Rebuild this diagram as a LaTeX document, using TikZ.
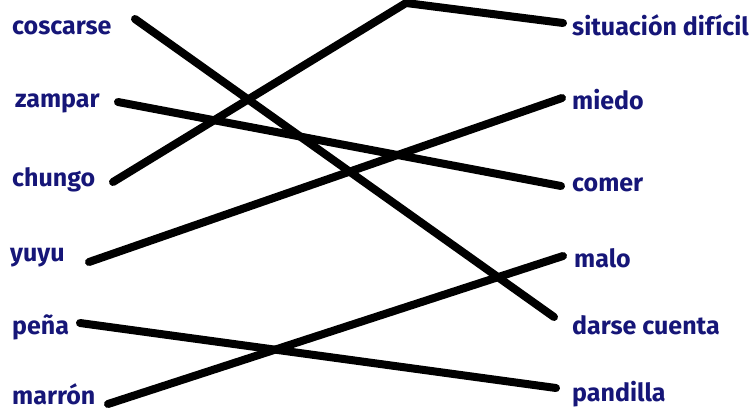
\documentclass[tikz,border=0pt]{standalone}
\usepackage{fontspec}
\setmainfont{Fira Sans}
\definecolor{navy}{RGB}{22,22,120}
\begin{document}
\begin{tikzpicture}[x=1pt,y=-1pt,
  lbl/.style={anchor=west,inner sep=0pt,text=navy,font=\fontsize{25}{25}\selectfont\bfseries},
  link/.style={line width=8pt,line cap=round,line join=round,black}]
\useasboundingbox (0,0) rectangle (754,410);
% left labels
\node[lbl] (coscarse) at (12,28) {coscarse};
\node[lbl] (zampar) at (15,103) {zampar};
\node[lbl] (chungo) at (12,180) {chungo};
\node[lbl] (yuyu) at (10,258) {yuyu};
\node[lbl] (pena) at (12,327) {peña};
\node[lbl] (marron) at (12,394) {marrón};
% right labels
\node[lbl] (situacion) at (572,25) {situación difícil};
\node[lbl] (miedo) at (572,100) {miedo};
\node[lbl] (comer) at (572,185) {comer};
\node[lbl] (malo) at (574,258) {malo};
\node[lbl] (darse) at (572,325) {darse cuenta};
\node[lbl] (pandilla) at (572,394) {pandilla};
% line ends
\coordinate (c1) at (135,19);
\coordinate (c2) at (554,317);
\coordinate (z1) at (118,102);
\coordinate (z2) at (561,186);
\coordinate (h1) at (113,182);
\coordinate (hb) at (406,3);
\coordinate (h2) at (563,23);
\coordinate (y1) at (89,262);
\coordinate (y2) at (562,98);
\coordinate (p1) at (80,323);
\coordinate (p2) at (556,388);
\coordinate (m1) at (108,404);
\coordinate (m2) at (563,256);
\draw[link] (c1) -- (c2);
\draw[link] (z1) -- (z2);
\draw[link] (h1) -- (hb) -- (h2);
\draw[link] (y1) -- (y2);
\draw[link] (p1) -- (p2);
\draw[link] (m1) -- (m2);
\end{tikzpicture}
\end{document}
